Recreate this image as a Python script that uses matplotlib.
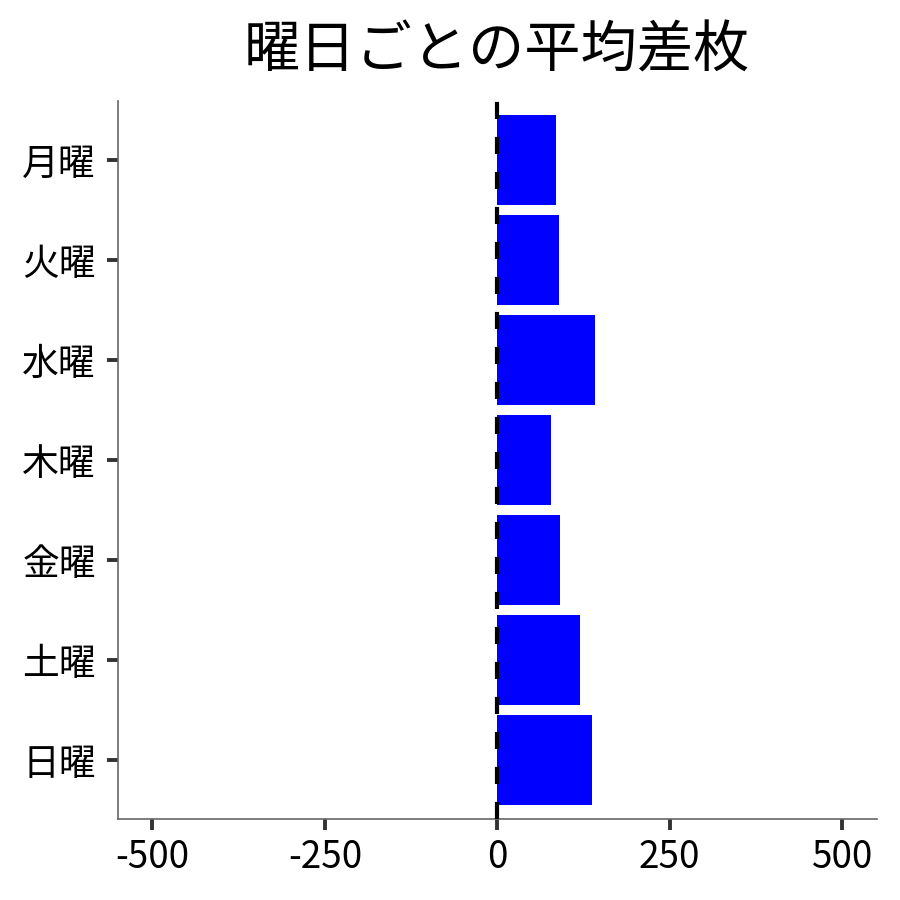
import matplotlib
matplotlib.use("Agg")
import matplotlib.pyplot as plt

plt.rcParams['font.family'] = ['Noto Sans CJK JP', 'DejaVu Sans']
plt.rcParams['axes.unicode_minus'] = False

days = ['月曜', '火曜', '水曜', '木曜', '金曜', '土曜', '日曜']
avg_diff = [85, 90, 142, 78, 91, 120, 137]
xticks = [-500, -250, 0, 250, 500]

fig = plt.figure(figsize=(9, 9), dpi=100)
ax = fig.add_axes([0.131, 0.09, 0.843, 0.798])

ypos = list(range(len(days)))
ax.barh(ypos, avg_diff, height=0.9, color='#0000ff', zorder=2)
# zero reference line
ax.axvline(0, color='black', linewidth=3, linestyle=(0, (4.1, 4.3)), zorder=3)

ax.set_yticks(ypos)
ax.set_yticklabels(days)
ax.set_ylim(len(days) - 1 + 0.59, -0.59)
ax.set_xlim(-550, 550)
ax.set_xticks(xticks)
ax.set_xticklabels([str(v) for v in xticks])

ax.tick_params(axis='both', labelsize=26.5, length=8, width=2.8, color='#333333', pad=6)
ax.tick_params(axis='y', pad=8)

for s in ['top', 'right']:
    ax.spines[s].set_visible(False)
for s in ['left', 'bottom']:
    ax.spines[s].set_color('#666666')
    ax.spines[s].set_linewidth(1.2)

ax.set_title('曜日ごとの平均差枚', fontsize=40.5, pad=24)

fig.savefig('out.png', dpi=100)
